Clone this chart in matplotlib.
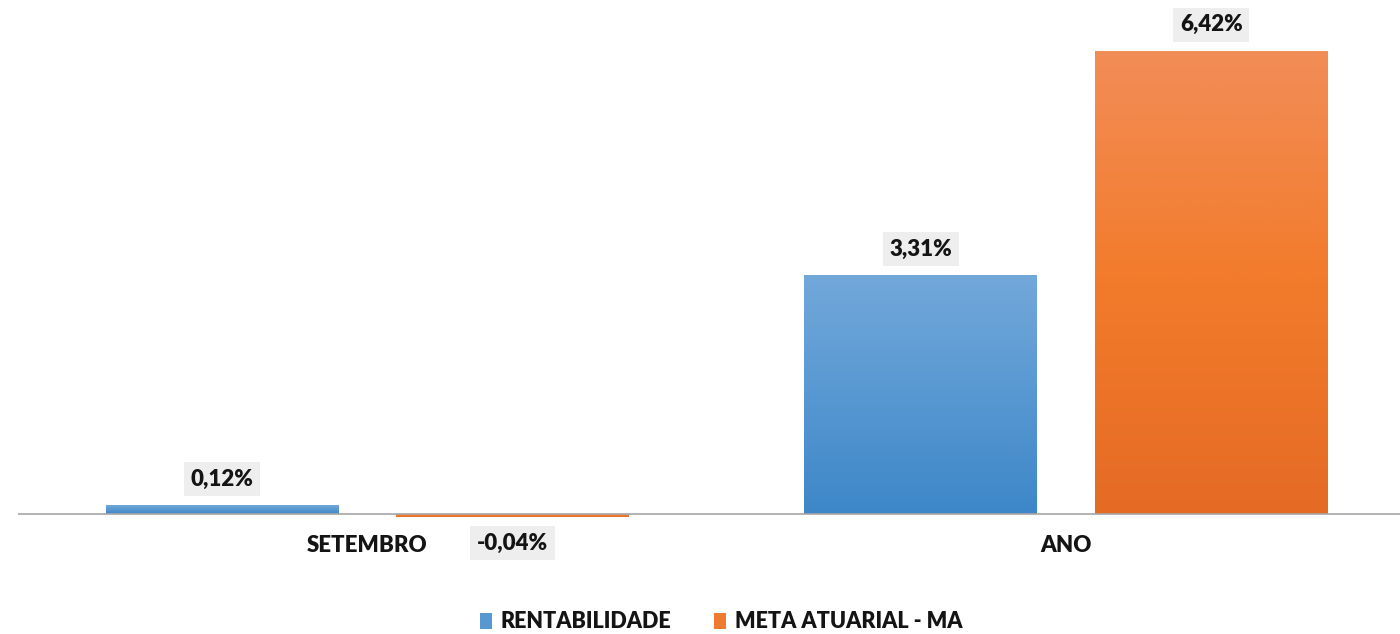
import numpy as np
import matplotlib.pyplot as plt
from matplotlib.colors import LinearSegmentedColormap
from matplotlib.patches import Patch

# adatok
categories = ['SETEMBRO', 'ANO']
rentabilidade = [0.12, 3.31]
meta_atuarial = [-0.04, 6.42]
series_names = ['RENTABILIDADE', 'META ATUARIAL - MA']

plt.rcParams['font.family'] = ['Lato', 'DejaVu Sans']
plt.rcParams['font.weight'] = 'bold'

blue_cmap = LinearSegmentedColormap.from_list('b', ['#3d87c8', '#5898d2', '#72a8da'])
orange_cmap = LinearSegmentedColormap.from_list('o', ['#e56b25', '#f27b2b', '#f28d57'])

fig = plt.figure(figsize=(14, 6.34), dpi=100)
ax = fig.add_axes([18 / 1400, 0.0756, 1382 / 1400, 0.9098])

x = np.arange(len(categories))
w = 0.333
off = 0.208

def gradient_bars(bars, cmap):
    grad = np.linspace(0, 1, 256).reshape(-1, 1)
    for b in bars:
        x0, y0 = b.get_x(), b.get_y()
        x1, y1 = x0 + b.get_width(), y0 + b.get_height()
        ylo, yhi = min(y0, y1), max(y0, y1)
        im = ax.imshow(grad, cmap=cmap, aspect='auto', origin='lower',
                       extent=[x0, x1, ylo, yhi], zorder=2)
        im.set_clip_path(b)

b1 = ax.bar(x - off, rentabilidade, w, color='none', edgecolor='none', zorder=2)
b2 = ax.bar(x + off, meta_atuarial, w, color='none', edgecolor='none', zorder=2)
gradient_bars(b1, blue_cmap)
gradient_bars(b2, orange_cmap)

# rotulos
box = dict(boxstyle='square,pad=0.3', facecolor='#eeeeee', edgecolor='none')
for xs, vals in [(x - off, rentabilidade), (x + off, meta_atuarial)]:
    for xi, v in zip(xs, vals):
        dy = 19 if v >= 0 else -19
        txt = ('%.2f' % v).replace('.', ',') + '%'
        ax.annotate(txt, (xi, v), xytext=(0, dy), textcoords='offset points',
                    ha='center', va='center', fontsize=16, fontweight='heavy',
                    color='#141414', bbox=box, zorder=5)

# kategoria nevek
for xi, c in zip(x, categories):
    ax.annotate(c, (xi, 0), xytext=(0, -23), textcoords='offset points',
                ha='center', va='center', fontsize=16, fontweight='heavy',
                color='#141414')

ax.set_xlim(-0.5, 1.478)
ax.set_ylim(-1, 7)
ax.axhline(0, color='#a6a6a6', lw=1.2, zorder=3)
ax.set_xticks([])
ax.set_yticks([])
for s in ax.spines.values():
    s.set_visible(False)
ax.set_facecolor('none')

handles = [Patch(facecolor='#5898d2'), Patch(facecolor='#f07a30')]
leg = fig.legend(handles, series_names, loc='center', bbox_to_anchor=(0.515, 0.019),
                 ncol=2, frameon=False, fontsize=15.5, handlelength=0.55,
                 handleheight=0.75, handletextpad=0.4, columnspacing=2.0,
                 borderpad=0.1)
for t in leg.get_texts():
    t.set_fontweight('heavy')
    t.set_color('#141414')

fig.savefig('out.png', dpi=100)
